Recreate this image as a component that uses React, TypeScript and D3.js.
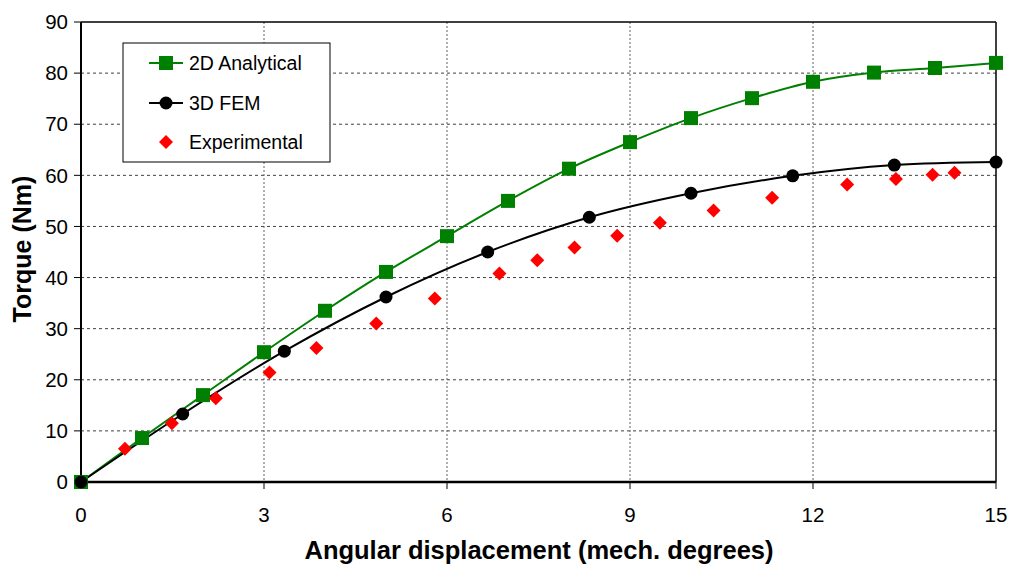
import React from "react";
import * as d3 from "d3";

const analyticalX = [0, 1, 2, 3, 4, 5, 6, 7, 8, 9, 10, 11, 12, 13, 14, 15];
const analyticalY = [0, 8.6, 17.0, 25.4, 33.5, 41.1, 48.1, 55.0, 61.3, 66.5, 71.2, 75.1, 78.3, 80.1, 81.0, 82.0];

const femX = [0, 1.667, 3.333, 5, 6.667, 8.333, 10, 11.667, 13.333, 15];
const femY = [0, 13.3, 25.6, 36.2, 45.0, 51.8, 56.5, 59.9, 62.0, 62.6];

const expX = [0.72, 1.49, 2.21, 3.09, 3.86, 4.84, 5.8, 6.86, 7.48, 8.09, 8.79, 9.49, 10.37, 11.33, 12.56, 13.36, 13.96, 14.32];
const expY = [6.5, 11.5, 16.4, 21.4, 26.2, 31.0, 35.9, 40.8, 43.4, 45.9, 48.2, 50.7, 53.1, 55.6, 58.2, 59.3, 60.1, 60.5];

const xTicks = [0, 3, 6, 9, 12, 15];
const yTicks = [0, 10, 20, 30, 40, 50, 60, 70, 80, 90];

const seriesNames = ["2D Analytical", "3D FEM", "Experimental"];
const xTitle = "Angular displacement (mech. degrees)";
const yTitle = "Torque (Nm)";

const W = 1009;
const H = 570;
const L = 81;
const R = 996;
const T = 22;
const B = 482;

const GREEN = "#008000";
const RED = "#ff0000";
const FONT = "'Liberation Sans', Arial, sans-serif";

export default function App() {
  const x = d3.scaleLinear().domain([0, 15]).range([L, R]);
  const y = d3.scaleLinear().domain([0, 90]).range([B, T]);

  const line = d3
    .line<[number, number]>()
    .x((d) => x(d[0]))
    .y((d) => y(d[1]))
    .curve(d3.curveCatmullRom.alpha(0.5));

  const aPts = analyticalX.map((v, i) => [v, analyticalY[i]] as [number, number]);
  const fPts = femX.map((v, i) => [v, femY[i]] as [number, number]);
  const ePts = expX.map((v, i) => [v, expY[i]] as [number, number]);

  const diamond = (cx: number, cy: number, r: number) =>
    `M${cx},${cy - r}L${cx + r},${cy}L${cx},${cy + r}L${cx - r},${cy}Z`;

  const legendRows = [63, 103, 142];

  return (
    <svg
      width={W}
      height={H}
      style={{ position: "absolute", left: 0, top: 0, background: "#fff" }}
      fontFamily={FONT}
    >
      <rect x={0} y={0} width={W} height={H} fill="#fff" />
      {/* horizontal gridlines */}
      {yTicks
        .filter((t) => t > 0 && t < 90)
        .map((t) => (
          <line
            key={"hg" + t}
            x1={L}
            x2={R}
            y1={y(t)}
            y2={y(t)}
            stroke="#404040"
            strokeWidth={1}
            strokeDasharray="3,3"
          />
        ))}
      {/* vertical gridlines */}
      {xTicks
        .filter((t) => t > 0 && t < 15)
        .map((t) => (
          <line
            key={"vg" + t}
            x1={x(t)}
            x2={x(t)}
            y1={T}
            y2={B}
            stroke="#606060"
            strokeWidth={1}
            strokeDasharray="2,2"
          />
        ))}
      {/* frame */}
      <line x1={L} x2={R} y1={T} y2={T} stroke="#000" strokeWidth={1.5} />
      <line x1={R} x2={R} y1={T} y2={B} stroke="#000" strokeWidth={1.5} />
      <line x1={L} x2={L} y1={T} y2={B} stroke="#000" strokeWidth={2} />
      <line x1={L} x2={R} y1={B} y2={B} stroke="#000" strokeWidth={2.5} />
      {/* y ticks */}
      {yTicks.map((t) => (
        <g key={"yt" + t}>
          <line x1={L - 7} x2={L} y1={y(t)} y2={y(t)} stroke="#000" strokeWidth={1} />
          <text x={L - 13} y={y(t)} dy="0.35em" textAnchor="end" fontSize={20.5} fill="#000">
            {t}
          </text>
        </g>
      ))}
      {/* x ticks */}
      {xTicks.map((t) => (
        <g key={"xt" + t}>
          <line x1={x(t)} x2={x(t)} y1={B} y2={B + 7} stroke="#000" strokeWidth={1} />
          <text x={x(t)} y={515} dy="0.35em" textAnchor="middle" fontSize={20.5} fill="#000">
            {t}
          </text>
        </g>
      ))}
      {/* axis titles */}
      <text
        x={539}
        y={550}
        dy="0.35em"
        textAnchor="middle"
        fontSize={25.5}
        fontWeight="bold"
        fill="#000"
      >
        {xTitle}
      </text>
      <text
        transform={`translate(22,249) rotate(-90)`}
        textAnchor="middle"
        dy="0.35em"
        fontSize={25}
        fontWeight="bold"
        fill="#000"
      >
        {yTitle}
      </text>
      {/* lines */}
      <path d={line(aPts) || ""} fill="none" stroke={GREEN} strokeWidth={2} />
      <path d={line(fPts) || ""} fill="none" stroke="#000" strokeWidth={2} />
      {/* markers */}
      {aPts.map((p, i) => (
        <rect key={"a" + i} x={x(p[0]) - 7} y={y(p[1]) - 7} width={14} height={14} fill={GREEN} />
      ))}
      {fPts.map((p, i) => (
        <circle key={"f" + i} cx={x(p[0])} cy={y(p[1])} r={6.5} fill="#000" />
      ))}
      {ePts.map((p, i) => (
        <path key={"e" + i} d={diamond(x(p[0]), y(p[1]), 7)} fill={RED} />
      ))}
      {/* legend */}
      <rect x={123} y={43} width={207} height={119} fill="#fff" stroke="#000" strokeWidth={1} />
      <line x1={149} x2={183} y1={legendRows[0]} y2={legendRows[0]} stroke={GREEN} strokeWidth={2} />
      <rect x={159} y={legendRows[0] - 7} width={14} height={14} fill={GREEN} />
      <line x1={149} x2={183} y1={legendRows[1]} y2={legendRows[1]} stroke="#000" strokeWidth={2} />
      <circle cx={166} cy={legendRows[1]} r={6.5} fill="#000" />
      <path d={diamond(166, legendRows[2], 7)} fill={RED} />
      {seriesNames.map((n, i) => (
        <text key={n} x={189} y={legendRows[i]} dy="0.35em" fontSize={19.5} fill="#000">
          {n}
        </text>
      ))}
    </svg>
  );
}
